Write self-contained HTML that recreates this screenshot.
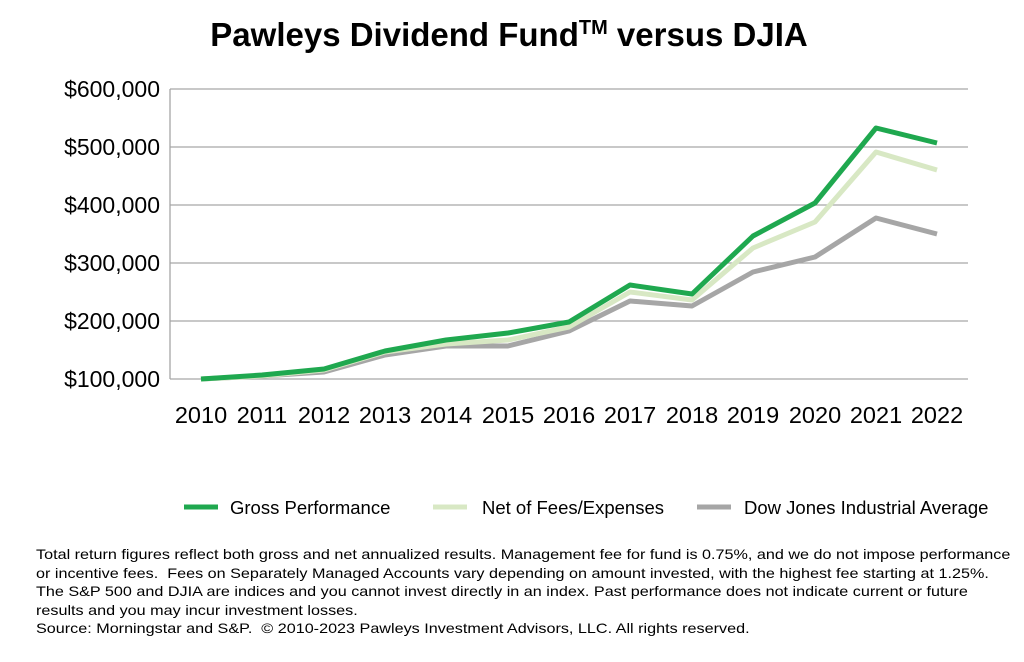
<!DOCTYPE html>
<html><head><meta charset="utf-8"><style>
body{margin:0;background:#fff;width:1024px;height:662px;overflow:hidden;font-family:"Liberation Sans",Arial,sans-serif}
.note{position:absolute;left:36px;top:545px;font-size:14px;line-height:18.5px;color:#000;white-space:nowrap;transform:scaleX(1.155);transform-origin:0 0}
</style></head><body>
<svg width="1024" height="662" style="position:absolute;left:0;top:0" font-family="Liberation Sans, Arial, sans-serif">
<text x="509" y="46" text-anchor="middle" font-size="33" font-weight="bold">Pawleys Dividend Fund<tspan font-size="20" dy="-12">TM</tspan><tspan dy="12"> versus DJIA</tspan></text>
<g stroke="#a6a6a6" stroke-width="1.3">
<line x1="170" y1="89" x2="968" y2="89"/><line x1="170" y1="147" x2="968" y2="147"/>
<line x1="170" y1="205" x2="968" y2="205"/><line x1="170" y1="263" x2="968" y2="263"/>
<line x1="170" y1="321" x2="968" y2="321"/><line x1="170" y1="379" x2="968" y2="379"/>
<line x1="170" y1="89" x2="170" y2="379"/>
</g>
<g font-size="23" text-anchor="end">
<text x="160" y="97">$600,000</text><text x="160" y="155">$500,000</text>
<text x="160" y="213">$400,000</text><text x="160" y="271">$300,000</text>
<text x="160" y="329">$200,000</text><text x="160" y="387">$100,000</text>
</g>
<g font-size="23.5" text-anchor="middle">
<text x="201" y="423">2010</text><text x="262" y="423">2011</text><text x="324" y="423">2012</text>
<text x="385" y="423">2013</text><text x="446" y="423">2014</text><text x="508" y="423">2015</text>
<text x="569" y="423">2016</text><text x="630" y="423">2017</text><text x="692" y="423">2018</text>
<text x="753" y="423">2019</text><text x="815" y="423">2020</text><text x="876" y="423">2021</text>
<text x="937" y="423">2022</text>
</g>
<g fill="none" stroke-width="5" stroke-linejoin="round">
<polyline stroke="#a6a6a6" points="201,379 262,376 324,372 385,355 446,346 508,346 569,331 630,301 692,306 753,272 815,257 876,218 937,234"/>
<polyline stroke="#d8e8c4" points="201,379 262,376 324,370 385,352 446,344 508,340 569,327 630,292 692,300 753,248 815,222 876,152 937,170"/>
<polyline stroke="#1fa84f" points="201,379 262,375 324,369 385,351 446,340 508,333 569,322 630,285 692,294 753,236 815,203 876,128 937,143"/>
</g>
<g stroke-width="5">
<line x1="184" y1="507" x2="218" y2="507" stroke="#1fa84f"/>
<line x1="433" y1="507" x2="467" y2="507" stroke="#d8e8c4"/>
<line x1="697" y1="507" x2="731" y2="507" stroke="#a6a6a6"/>
</g>
<g font-size="18.5">
<text x="230" y="514">Gross Performance</text>
<text x="482" y="514">Net of Fees/Expenses</text>
<text x="744" y="514">Dow Jones Industrial Average</text>
</g>
</svg>
<div class="note">Total return figures reflect both gross and net annualized results. Management fee for fund is 0.75%, and we do not impose performance<br>or incentive fees.&nbsp; Fees on Separately Managed Accounts vary depending on amount invested, with the highest fee starting at 1.25%.<br>The S&amp;P 500 and DJIA are indices and you cannot invest directly in an index. Past performance does not indicate current or future<br>results and you may incur investment losses.<br>Source: Morningstar and S&amp;P.&nbsp; © 2010-2023 Pawleys Investment Advisors, LLC. All rights reserved.</div>
</body></html>
